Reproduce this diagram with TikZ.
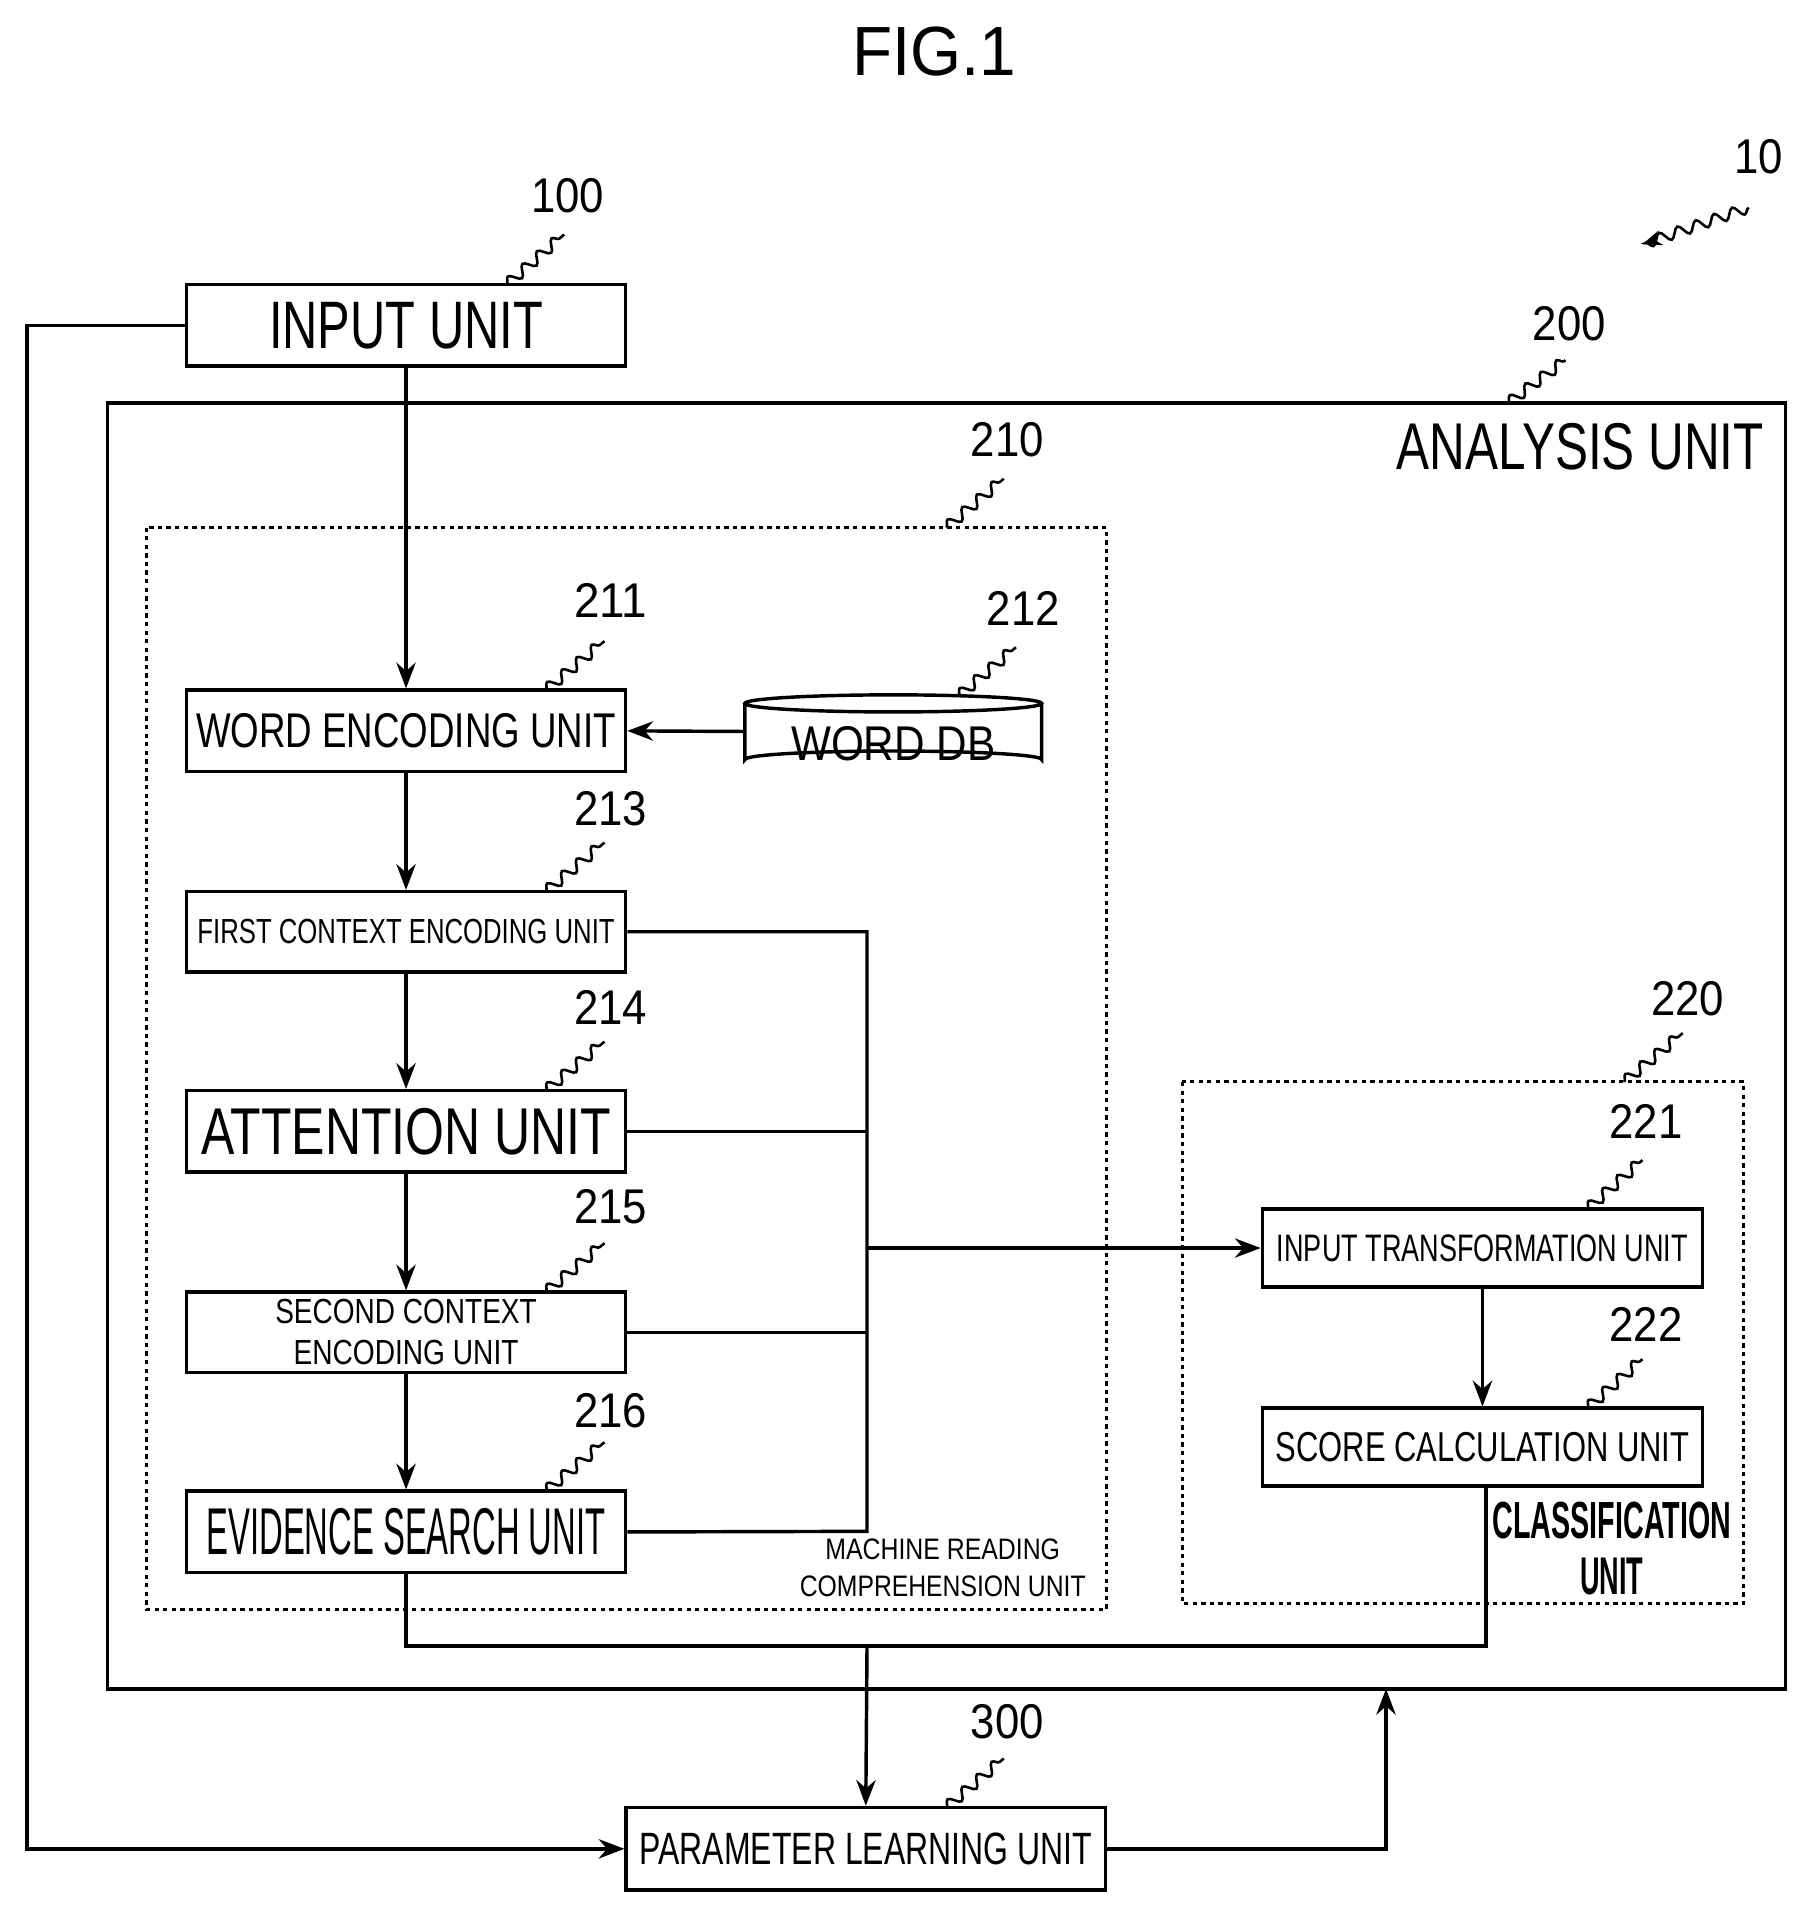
\documentclass[tikz,border=0pt]{standalone}
\usepackage{fontspec}
\setmainfont{Liberation Sans}
\usetikzlibrary{arrows.meta,decorations.pathmorphing}
\newlength\uu \setlength\uu{0.5669pt}
\newcommand\R[3]{\resizebox{#1\uu}{#2\uu}{#3}}
\begin{document}
\begin{tikzpicture}[x=0.02cm,y=-0.02cm,line width=1.6pt,
  box/.style={draw,rectangle,inner sep=0pt},
  dot/.style={draw,dash pattern=on 2pt off 2pt,line width=1.4pt},
  arr/.style={-{Stealth[length=12pt,width=9pt]}},
  sq/.style={line width=1.2pt,decorate,decoration={snake,amplitude=2.5pt,segment length=9pt}},
  lbl/.style={inner sep=0pt}]
\useasboundingbox (0,0) rectangle (1475,1560);
\node[lbl] (fig) at (765,42) {\R{135}{40}{FIG.1}};
% outer frames
\draw (88,330) rectangle (1462,1383);
\node[lbl] (an) at (1294,366) {\R{302}{38}{ANALYSIS UNIT}};
\draw[dot] (120,432) rectangle (906,1318);
\node[lbl,align=center] (mrc) at (772,1284) {\R{193}{17}{MACHINE READING}\\[5pt]\R{235}{17}{COMPREHENSION UNIT}};
\draw[dot] (968,886) rectangle (1428,1313);
\node[lbl,align=center] (cl) at (1320,1268) {\R{196}{30}{\bfseries CLASSIFICATION}\\[8pt]\R{52}{30}{\bfseries UNIT}};
% boxes
\node[box,minimum width=361\uu,minimum height=67\uu] (in) at (332.5,266.5) {\R{225}{38}{INPUT UNIT}};
\node[box,minimum width=361\uu,minimum height=67\uu] (we) at (332.5,598.5) {\R{345}{28}{WORD ENCODING UNIT}};
\node[box,minimum width=361\uu,minimum height=66\uu] (fc) at (332.5,763) {\R{343}{20}{FIRST CONTEXT ENCODING UNIT}};
\node[box,minimum width=361\uu,minimum height=67\uu] (at) at (332.5,926.5) {\R{337}{38}{ATTENTION UNIT}};
\node[box,minimum width=361\uu,minimum height=66\uu,align=center] (sc) at (332.5,1091) {\R{215}{20}{SECOND CONTEXT}\\[7pt]\R{185}{20}{ENCODING UNIT}};
\node[box,minimum width=361\uu,minimum height=67\uu] (ev) at (332.5,1254.5) {\R{328}{38}{EVIDENCE SEARCH UNIT}};
\node[box,minimum width=362\uu,minimum height=64\uu] (it) at (1214,1022) {\R{338}{22}{INPUT TRANSFORMATION UNIT}};
\node[box,minimum width=362\uu,minimum height=64\uu] (scu) at (1214,1185) {\R{340}{24}{SCORE CALCULATION UNIT}};
\node[box,minimum width=394\uu,minimum height=68\uu] (pl) at (709,1514) {\R{372}{26}{PARAMETER LEARNING UNIT}};
% word db cylinder
\node[minimum width=243\uu,minimum height=58\uu,inner sep=0pt] (db) at (731.5,599) {};
\draw (610,576) -- (610,622) arc[start angle=180,end angle=360,x radius=121.5,y radius=7] -- (853,576);
\draw (731.5,576) ellipse[x radius=121.5,y radius=7];
\node[lbl] at (731.5,609) {\R{168}{28}{WORD DB}};
% numbers
\foreach \t/\x/\y in {100/465/160,10/1440/128,200/1285/265,210/825/360,211/500/492,212/838/498,213/500/662,214/500/825,215/500/988,216/500/1155,220/1382/818,221/1348/918,222/1348/1085,300/825/1410}
  \node[lbl] at (\x,\y) {\R{\ifnum\t=10 40\else 60\fi}{28}{\t}};
\draw[sq] (415,233) -- (462,192);
\draw[sq] (1235,330) -- (1282,295);
\draw[sq] (775,432) -- (822,392);
\draw[sq] (447,565) -- (495,525);
\draw[sq] (785,570) -- (832,530);
\draw[sq] (447,730) -- (495,690);
\draw[sq] (447,893) -- (495,853);
\draw[sq] (447,1058) -- (495,1018);
\draw[sq] (447,1221) -- (495,1181);
\draw[sq] (1330,886) -- (1378,846);
\draw[sq] (1300,990) -- (1345,950);
\draw[sq] (1300,1153) -- (1345,1113);
\draw[sq] (775,1480) -- (822,1440);
\draw[sq,-{Stealth[length=9pt,width=7pt]}] (1432,170) -- (1345,200);
% connectors
\draw[arr] (in.south) -- (we.north);
\draw[arr] (db.west) -- (we.east);
\draw[arr] (we.south) -- (fc.north);
\draw[arr] (fc.south) -- (at.north);
\draw[arr] (at.south) -- (sc.north);
\draw[arr] (sc.south) -- (ev.north);
\coordinate (b1) at (710,763);
\coordinate (b2) at (710,1254);
\coordinate (bm) at (710,1022);
\draw (fc.east) -- (b1) -- (b2) -- (ev.east);
\draw (at.east) -- (710,926.5);
\draw (sc.east) -- (710,1091);
\draw[arr] (bm) -- (it.west);
\draw[arr] (it.south) -- (scu.north);
\coordinate (c1) at (332.5,1348);
\coordinate (c2) at (1217,1348);
\coordinate (cm) at (710,1348);
\draw (ev.south) -- (c1) -- (c2) -- (1217,1217);
\draw[arr] (cm) -- (pl.north);
\coordinate (l1) at (22,266.5);
\coordinate (l2) at (22,1514);
\draw[arr] (in.west) -- (l1) -- (l2) -- (pl.west);
\coordinate (r1) at (1135,1514);
\coordinate (r2) at (1135,1383);
\draw[arr] (pl.east) -- (r1) -- (r2);
\end{tikzpicture}
\end{document}
